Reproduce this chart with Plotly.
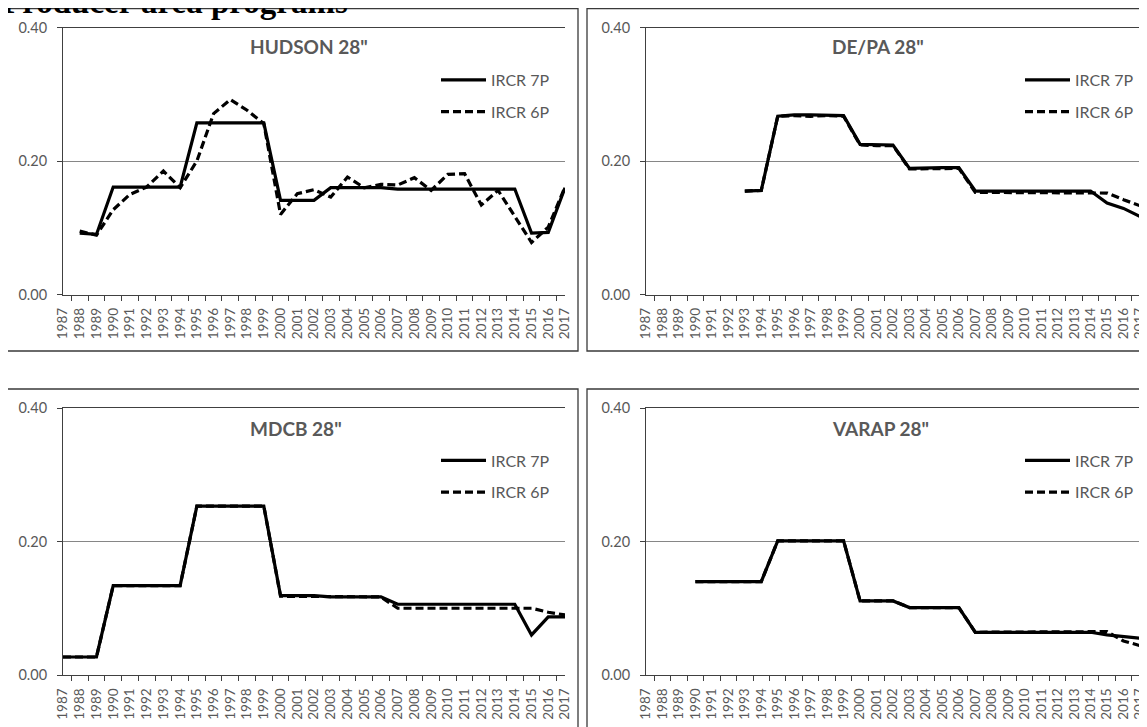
import plotly.graph_objects as go

# the page body keeps its default 8px margin, so the figure is drawn 8px in
OFF = 8
W, H = 1147 - OFF, 727 - OFF

years = [str(y) for y in range(1987, 2018)]
y_tickvals = [0.0, 0.2, 0.4]
y_ticktext = ["0.00", "0.20", "0.40"]

series_names = ["IRCR 7P", "IRCR 6P"]
panel_titles = ['HUDSON 28"', 'DE/PA 28"', 'MDCB 28"', 'VARAP 28"']
page_title = "Producer area programs"

# values per year, 1987..2017 (None = no data)
hudson_7p = [None, 0.092, 0.090, 0.161, 0.161, 0.161, 0.161, 0.161, 0.257, 0.257,
             0.257, 0.257, 0.257, 0.141, 0.141, 0.141, 0.160, 0.160, 0.160, 0.160,
             0.158, 0.158, 0.158, 0.158, 0.158, 0.158, 0.158, 0.158, 0.092, 0.093, 0.160]
hudson_6p = [None, 0.095, 0.089, 0.127, 0.150, 0.161, 0.185, 0.160, 0.200, 0.271,
             0.292, 0.276, 0.256, 0.120, 0.151, 0.157, 0.146, 0.176, 0.160, 0.165,
             0.164, 0.175, 0.156, 0.180, 0.181, 0.134, 0.156, 0.117, 0.078, 0.101, 0.161]

depa_7p = [None, None, None, None, None, None, 0.155, 0.156, 0.267, 0.269,
           0.269, 0.269, 0.268, 0.225, 0.224, 0.224, 0.189, 0.190, 0.190, 0.190,
           0.155, 0.155, 0.155, 0.155, 0.155, 0.155, 0.155, 0.155, 0.137, 0.129, 0.117]
depa_6p = [None, None, None, None, None, None, 0.155, 0.156, 0.267, 0.268,
           0.267, 0.268, 0.267, 0.224, 0.223, 0.223, 0.188, 0.188, 0.189, 0.189,
           0.153, 0.153, 0.153, 0.153, 0.153, 0.153, 0.153, 0.153, 0.152, 0.142, 0.133]

mdcb_7p = [0.027, 0.027, 0.027, 0.134, 0.134, 0.134, 0.134, 0.134, 0.253, 0.253,
           0.253, 0.253, 0.253, 0.119, 0.119, 0.119, 0.117, 0.117, 0.117, 0.117,
           0.106, 0.106, 0.106, 0.106, 0.106, 0.106, 0.106, 0.106, 0.060, 0.087, 0.087]
mdcb_6p = [0.027, 0.027, 0.027, 0.134, 0.134, 0.134, 0.134, 0.134, 0.253, 0.253,
           0.253, 0.253, 0.253, 0.118, 0.118, 0.118, 0.117, 0.117, 0.117, 0.117,
           0.100, 0.100, 0.100, 0.100, 0.100, 0.100, 0.100, 0.100, 0.100, 0.094, 0.090]

varap_7p = [None, None, None, 0.140, 0.140, 0.140, 0.140, 0.140, 0.201, 0.201,
            0.201, 0.201, 0.201, 0.111, 0.111, 0.111, 0.101, 0.101, 0.101, 0.101,
            0.064, 0.064, 0.064, 0.064, 0.064, 0.064, 0.064, 0.064, 0.060, 0.057, 0.055]
varap_6p = [None, None, None, 0.140, 0.140, 0.140, 0.140, 0.140, 0.201, 0.201,
            0.201, 0.201, 0.201, 0.111, 0.111, 0.111, 0.101, 0.101, 0.101, 0.101,
            0.064, 0.064, 0.064, 0.064, 0.064, 0.064, 0.064, 0.064, 0.065, 0.051, 0.044]

panels = [(hudson_7p, hudson_6p), (depa_7p, depa_6p), (mdcb_7p, mdcb_6p), (varap_7p, varap_6p)]

# page-pixel layout of the four plot areas: (left, right, top, bottom)
plot_px = [(63, 565, 27.5, 294.5), (646, 1140, 27.5, 294.5),
           (63, 565, 408, 675), (646, 1140, 408, 675)]
# chart-area frames
frame_px = [(7, 578, 8.5, 351), (587, 1160, 8.5, 351), (7, 578, 389, 740), (587, 1160, 389, 740)]
title_px = [(248, 47), (830, 47), (248, 428), (830, 428)]
legend_px = [(436, 63), (1020, 63), (436, 443.5), (1020, 443.5)]


def px(x):
    return (x - OFF) / W


def py(y):
    return 1 - (y - OFF) / H


grey = "#595959"
font_family = "Lato"

fig = go.Figure()
layout = dict(
    template="none",
    width=W, height=H, margin=dict(l=0, r=0, t=0, b=0, autoexpand=False),
    paper_bgcolor="white", plot_bgcolor="white", showlegend=True,
    shapes=[], annotations=[],
)

for i, (s7, s6) in enumerate(panels):
    n = "" if i == 0 else str(i + 1)
    leg = "legend" + n
    fig.add_trace(go.Scatter(x=years, y=s7, mode="lines", name=series_names[0],
                             line=dict(color="black", width=3.2),
                             xaxis="x" + n, yaxis="y" + n, legend=leg,
                             legendgroup=f"a{i}", hoverinfo="skip"))
    fig.add_trace(go.Scatter(x=years, y=s6, mode="lines", name=series_names[1],
                             line=dict(color="black", width=3.2, dash="8px,4px"),
                             xaxis="x" + n, yaxis="y" + n, legend=leg,
                             legendgroup=f"b{i}", hoverinfo="skip"))

    l, r, t, b = plot_px[i]
    layout["xaxis" + n] = dict(
        domain=[px(l), min(px(r), 1.0)], anchor="y" + n, type="category",
        automargin=False, tickmode="array", tickvals=years, ticktext=years,
        tickson="boundaries", ticks="outside", ticklen=5, tickcolor="#404040",
        showline=True, linecolor="#404040", linewidth=1, mirror=True,
        showgrid=False, zeroline=False, tickangle=-90, ticklabelstandoff=7,
        tickfont=dict(family=font_family, size=13.5, color=grey),
    )
    layout["yaxis" + n] = dict(
        domain=[py(b), py(t)], anchor="x" + n, range=[0, 0.4], automargin=False,
        tickmode="array", tickvals=y_tickvals, ticktext=y_ticktext,
        ticks="outside", ticklen=5, tickcolor="#404040", ticklabelstandoff=7,
        showline=True, linecolor="#404040", linewidth=1,
        showgrid=True, gridcolor="#868686", gridwidth=1, zeroline=False,
        tickfont=dict(family=font_family, size=14.5, color=grey),
    )
    lx, ly = legend_px[i]
    layout[leg] = dict(
        x=px(lx), y=py(ly), xanchor="left", yanchor="top",
        bgcolor="rgba(0,0,0,0)", borderwidth=0, tracegroupgap=8, itemwidth=45,
        font=dict(family=font_family, size=16, color=grey),
    )
    fl, fr, ft, fb = frame_px[i]
    layout["shapes"].append(dict(type="rect", xref="paper", yref="paper",
                                 x0=px(fl), x1=px(fr), y0=py(fb), y1=py(ft),
                                 line=dict(color="#3a3a3a", width=1.3)))
    tx, ty = title_px[i]
    layout["annotations"].append(dict(
        text=f"<b>{panel_titles[i]}</b>", x=px(tx), y=py(ty), xref="paper", yref="paper",
        xanchor="left", yanchor="middle", showarrow=False,
        font=dict(family=font_family, size=19, color=grey)))

layout["annotations"].append(dict(
    text=f"<b>{page_title}</b>", x=px(0), y=1, xref="paper", yref="paper",
    xanchor="left", yanchor="bottom", yshift=-14, showarrow=False,
    font=dict(family="Liberation Serif", size=33, color="black")))

fig.update_layout(**layout)
fig.write_html("out.html")
